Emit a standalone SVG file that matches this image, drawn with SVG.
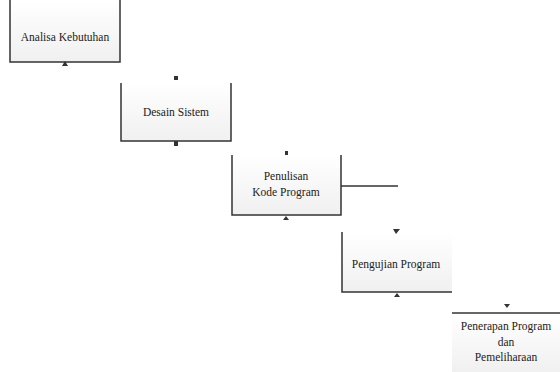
<svg xmlns="http://www.w3.org/2000/svg" width="560" height="372" viewBox="0 0 560 372">
<defs>
<linearGradient id="g" x1="0" y1="0" x2="0" y2="1">
<stop offset="0" stop-color="#ffffff"/>
<stop offset="1" stop-color="#f0f0f0"/>
</linearGradient>
</defs>
<style>
.box{fill:url(#g);stroke:none}
.edge{fill:none;stroke:#333;stroke-width:1.5}
.lbl{font-family:"Liberation Serif",serif;font-size:11.5px;fill:#222;text-anchor:middle}
.mk{fill:#333}
</style>
<rect width="560" height="372" fill="#fff"/>
<g id="n1">
<rect class="box" x="10" y="0" width="110" height="62"/>
<path class="edge" d="M10,0 V62 H120 V0"/>
<text class="lbl" x="65" y="41">Analisa Kebutuhan</text>
</g>
<g id="n2">
<rect class="box" x="121" y="83" width="110" height="58"/>
<path class="edge" d="M121,83 V141 H231 V83"/>
<text class="lbl" x="176" y="116">Desain Sistem</text>
</g>
<g id="n3">
<rect class="box" x="232" y="155" width="109" height="60"/>
<path class="edge" d="M232,155 V215 H341 V155"/>
<text class="lbl" x="286" y="180">Penulisan</text>
<text class="lbl" x="286" y="196">Kode Program</text>
</g>
<g id="n4">
<rect class="box" x="342" y="232" width="110" height="60"/>
<path class="edge" d="M342,232 V292 H452"/>
<text class="lbl" x="396" y="268">Pengujian Program</text>
</g>
<g id="n5">
<rect class="box" x="452" y="313" width="108" height="59"/>
<path class="edge" d="M452,313 H560"/>
<text class="lbl" x="506" y="330">Penerapan Program</text>
<text class="lbl" x="506" y="346">dan</text>
<text class="lbl" x="506" y="361">Pemeliharaan</text>
</g>
<g id="connectors">
<path class="edge" d="M341,186 H398"/>
<path class="mk" d="M62,66 L68,66 L65,61 Z"/>
<rect class="mk" x="174" y="76" width="4" height="4"/>
<rect class="mk" x="174" y="141" width="4" height="5"/>
<rect class="mk" x="285" y="151" width="3" height="4"/>
<path class="mk" d="M283,220 L289,220 L286,216 Z"/>
<path class="mk" d="M393,229 L400,229 L396,234 Z"/>
<path class="mk" d="M394,297 L400,297 L397,293 Z"/>
<path class="mk" d="M504,304 L510,304 L507,308 Z"/>
</g>
</svg>
